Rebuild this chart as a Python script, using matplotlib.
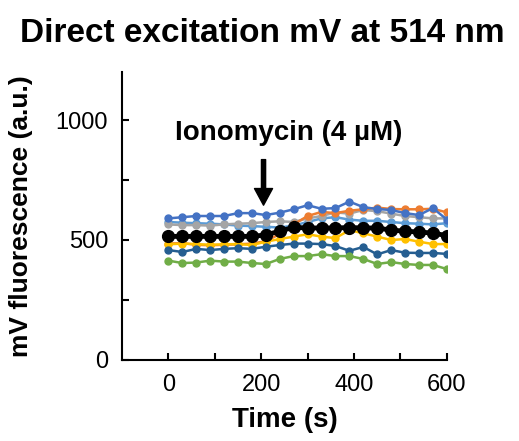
import numpy as np
import matplotlib.pyplot as plt

plt.rcParams['font.family'] = ['Liberation Sans', 'DejaVu Sans']

# Time points (s)
time = list(range(0, 601, 30))

# Individual traces
blue = [590, 595, 600, 600, 600, 612, 612, 604, 614, 628, 645, 630, 633, 660, 637, 629, 625, 612, 604, 633, 585]
orange = [485, 487, 480, 478, 480, 482, 485, 495, 525, 565, 600, 617, 612, 622, 628, 635, 629, 628, 628, 630, 615]
gray = [565, 562, 562, 560, 565, 568, 570, 575, 578, 575, 590, 600, 615, 610, 625, 620, 610, 600, 595, 590, 590]
yellow = [482, 485, 483, 480, 482, 483, 479, 493, 504, 514, 524, 514, 508, 541, 528, 514, 500, 504, 493, 483, 483]
lightblue = [575, 572, 570, 568, 565, 560, 558, 555, 552, 560, 575, 590, 595, 585, 580, 580, 575, 570, 568, 565, 570]
green = [414, 404, 406, 414, 410, 410, 404, 400, 421, 433, 433, 441, 433, 433, 421, 400, 408, 400, 396, 396, 379]
darkblue = [458, 450, 463, 458, 463, 466, 463, 472, 479, 485, 485, 483, 475, 455, 471, 440, 458, 447, 446, 446, 442]
mean = [515, 515, 515, 515, 515, 515, 515, 521, 537, 553, 550, 550, 550, 552, 550, 550, 541, 537, 533, 529, 518]

traces = [lightblue, gray, orange, yellow, darkblue, green, blue]
colors = ['#5B9BD5', '#A5A5A5', '#ED7D31', '#FFC000', '#255E91', '#70AD47', '#4472C4']

fig = plt.figure(figsize=(5.19, 4.41), dpi=100)
ax = fig.add_axes([0.235, 0.1837, 0.626, 0.653])

for y, c in zip(traces, colors):
    ax.plot(time, y, color=c, lw=1.8, marker='o', ms=5)

# Mean trace
ax.plot(time, mean, color='black', lw=3.5, marker='o', ms=8.5, zorder=5)

ax.set_xlim(-100, 600)
ax.set_ylim(0, 1200)
ax.set_xticks(range(0, 601, 100))
ax.set_xticklabels(['0', '', '200', '', '400', '', '600'])
ax.set_yticks([0, 250, 500, 750, 1000])
ax.set_yticklabels(['0', '', '500', '', '1000'])

for s in ['top', 'right']:
    ax.spines[s].set_visible(False)
for s in ['left', 'bottom']:
    ax.spines[s].set_linewidth(1.5)
ax.tick_params(direction='in', length=5, width=1.5, labelsize=17, pad=10)

ax.set_xlabel('Time (s)', fontsize=20, fontweight='bold', labelpad=8)
ax.set_ylabel('mV fluorescence (a.u.)', fontsize=19, fontweight='bold', labelpad=16)
fig.suptitle('Direct excitation mV at 514 nm', fontsize=24, fontweight='bold', x=0.505, y=0.96)

# Ionomycin addition
ax.text(260, 946, 'Ionomycin (4 µM)', fontsize=20, fontweight='bold', ha='center', va='center')
ax.annotate('', xy=(205, 645), xytext=(205, 835),
            arrowprops=dict(facecolor='black', edgecolor='black', width=3, headwidth=13, headlength=12))

fig.savefig('out.png', dpi=100)
